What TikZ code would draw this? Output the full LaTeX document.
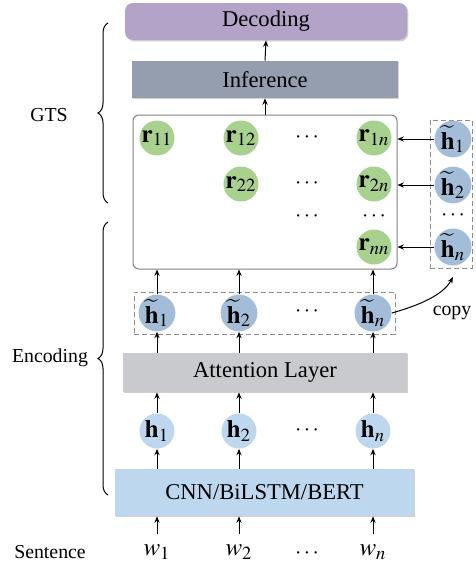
\documentclass[tikz,border=0pt]{standalone}
\usepackage{mathptmx}
\usepackage{fontspec}
\setmainfont{Liberation Serif}
\usetikzlibrary{arrows.meta,shadows,decorations.pathreplacing}

\definecolor{decodecol}{HTML}{B4A3C9}
\definecolor{infercol}{HTML}{949EAF}
\definecolor{attcol}{HTML}{C8CACE}
\definecolor{enccol}{HTML}{BDD7EE}
\definecolor{htcol}{HTML}{A3BDD8}
\definecolor{rcol}{HTML}{A8D18D}

\begin{document}
\begin{tikzpicture}[
  x=0.5pt, y=0.5pt,
  >={Stealth[length=3.2pt,width=2.6pt]},
  layer/.style={inner sep=0pt, font=\fontsize{11.3}{13.5}\selectfont,
    drop shadow={shadow xshift=0.7pt,shadow yshift=-0.7pt,opacity=0.3,fill=black!60}},
  unit/.style={circle, inner sep=0pt, minimum size=17.5pt, font=\fontsize{12.5}{15}\selectfont},
  dots/.style={inner sep=0pt, font=\fontsize{11.3}{13.5}\selectfont},
  lbl/.style={font=\fontsize{9.9}{12}\selectfont},
  dashbox/.style={draw=black!45, dash pattern=on 2.5pt off 1.5pt, line width=0.4pt},
  link/.style={->, line width=0.5pt}
]
\useasboundingbox (0,0) rectangle (476,-573);

% layers
\node[layer, fill=decodecol, rounded corners=4pt, minimum width=141pt, minimum height=18.5pt] (decode) at (266,-21.5) {Decoding};
\node[layer, fill=infercol, minimum width=133pt, minimum height=18.5pt] (infer) at (265,-79.5) {Inference};
\node[draw=black!50, rounded corners=3pt, line width=0.5pt, minimum width=132pt, minimum height=77pt] (grid) at (265,-192) {};
\node[dashbox, minimum width=130.5pt, minimum height=21pt] (tbox) at (264.5,-313) {};
\node[dashbox, minimum width=21pt, minimum height=74pt] (cbox) at (451,-194) {};
\node[layer, fill=attcol, minimum width=142pt, minimum height=19.5pt] (att) at (265,-372.5) {Attention Layer};
\node[layer, fill=enccol, minimum width=149.5pt, minimum height=23.5pt] (enc) at (264.5,-492.5) {CNN/BiLSTM/BERT};

% grid tagging cells
\node[unit, fill=rcol] (r11) at (157,-138) {$\mathbf{r}_{11}$};
\node[unit, fill=rcol] (r12) at (241,-138) {$\mathbf{r}_{12}$};
\node[unit, fill=rcol] (r1n) at (374,-138) {$\mathbf{r}_{1n}$};
\node[unit, fill=rcol] (r22) at (241,-184) {$\mathbf{r}_{22}$};
\node[unit, fill=rcol] (r2n) at (374,-184) {$\mathbf{r}_{2n}$};
\node[unit, fill=rcol] (rnn) at (374,-247) {$\mathbf{r}_{nn}$};
\node[dots] (d1) at (307,-138) {$\cdots$};
\node[dots] (d2) at (307,-184) {$\cdots$};
\node[dots] (d3) at (307,-217) {$\cdots$};
\node[dots] (d4) at (374,-217) {$\cdots$};

% copied representations
\node[unit, fill=htcol] (e1) at (453,-139) {$\widetilde{\mathbf{h}}_1$};
\node[unit, fill=htcol] (e2) at (453,-185) {$\widetilde{\mathbf{h}}_2$};
\node[dots] (ed) at (453,-216) {$\cdots$};
\node[unit, fill=htcol] (en) at (453,-247) {$\widetilde{\mathbf{h}}_n$};
\foreach \e in {e1,e2,en} {
  \draw[link] (\e) -- (\e -| grid.east);
}

% columns: tokens, hidden states, attended states
\foreach \x/\s [count=\i] in {157/1,239/2,373/n} {
  \node[unit] (w\i) at (\x,-552) {$w_{\s}$};
  \node[unit, fill=enccol] (h\i) at (\x,-431) {$\mathbf{h}_{\s}$};
  \node[unit, fill=htcol] (t\i) at (\x,-313) {$\widetilde{\mathbf{h}}_{\s}$};
  \draw[link] (w\i) -- (w\i |- enc.south);
  \draw[link] (h\i |- enc.north) -- (h\i);
  \draw[link] (h\i) -- (h\i |- att.south);
  \draw[link] (t\i |- att.north) -- (t\i);
  \draw[link] (t\i) -- (t\i |- grid.south);
}
\node[dots] (wd) at (307,-554) {$\cdots$};
\node[dots] (hd) at (307,-431) {$\cdots$};
\node[dots] (td) at (307,-312) {$\cdots$};

\draw[link] (grid.north) -- (infer.south);
\draw[link] (infer.north) -- (decode.south);

% copy
\coordinate (copyend) at (453,-277);
\draw[link] (t3.east) .. controls (420,-305) and (443,-295) .. (copyend);
\node[lbl] (copy) at (452,-313) {copy};

% braces and labels
\draw[decorate, decoration={brace, amplitude=5pt}, line width=0.5pt] (108,-203) -- (108,-23);
\draw[decorate, decoration={brace, amplitude=5pt}, line width=0.5pt] (108,-495) -- (108,-222);
\node[lbl] (gts) at (49,-115) {GTS};
\node[lbl] (encl) at (50,-358) {Encoding};
\node[lbl] (sent) at (50,-552) {Sentence};

\end{tikzpicture}
\end{document}
